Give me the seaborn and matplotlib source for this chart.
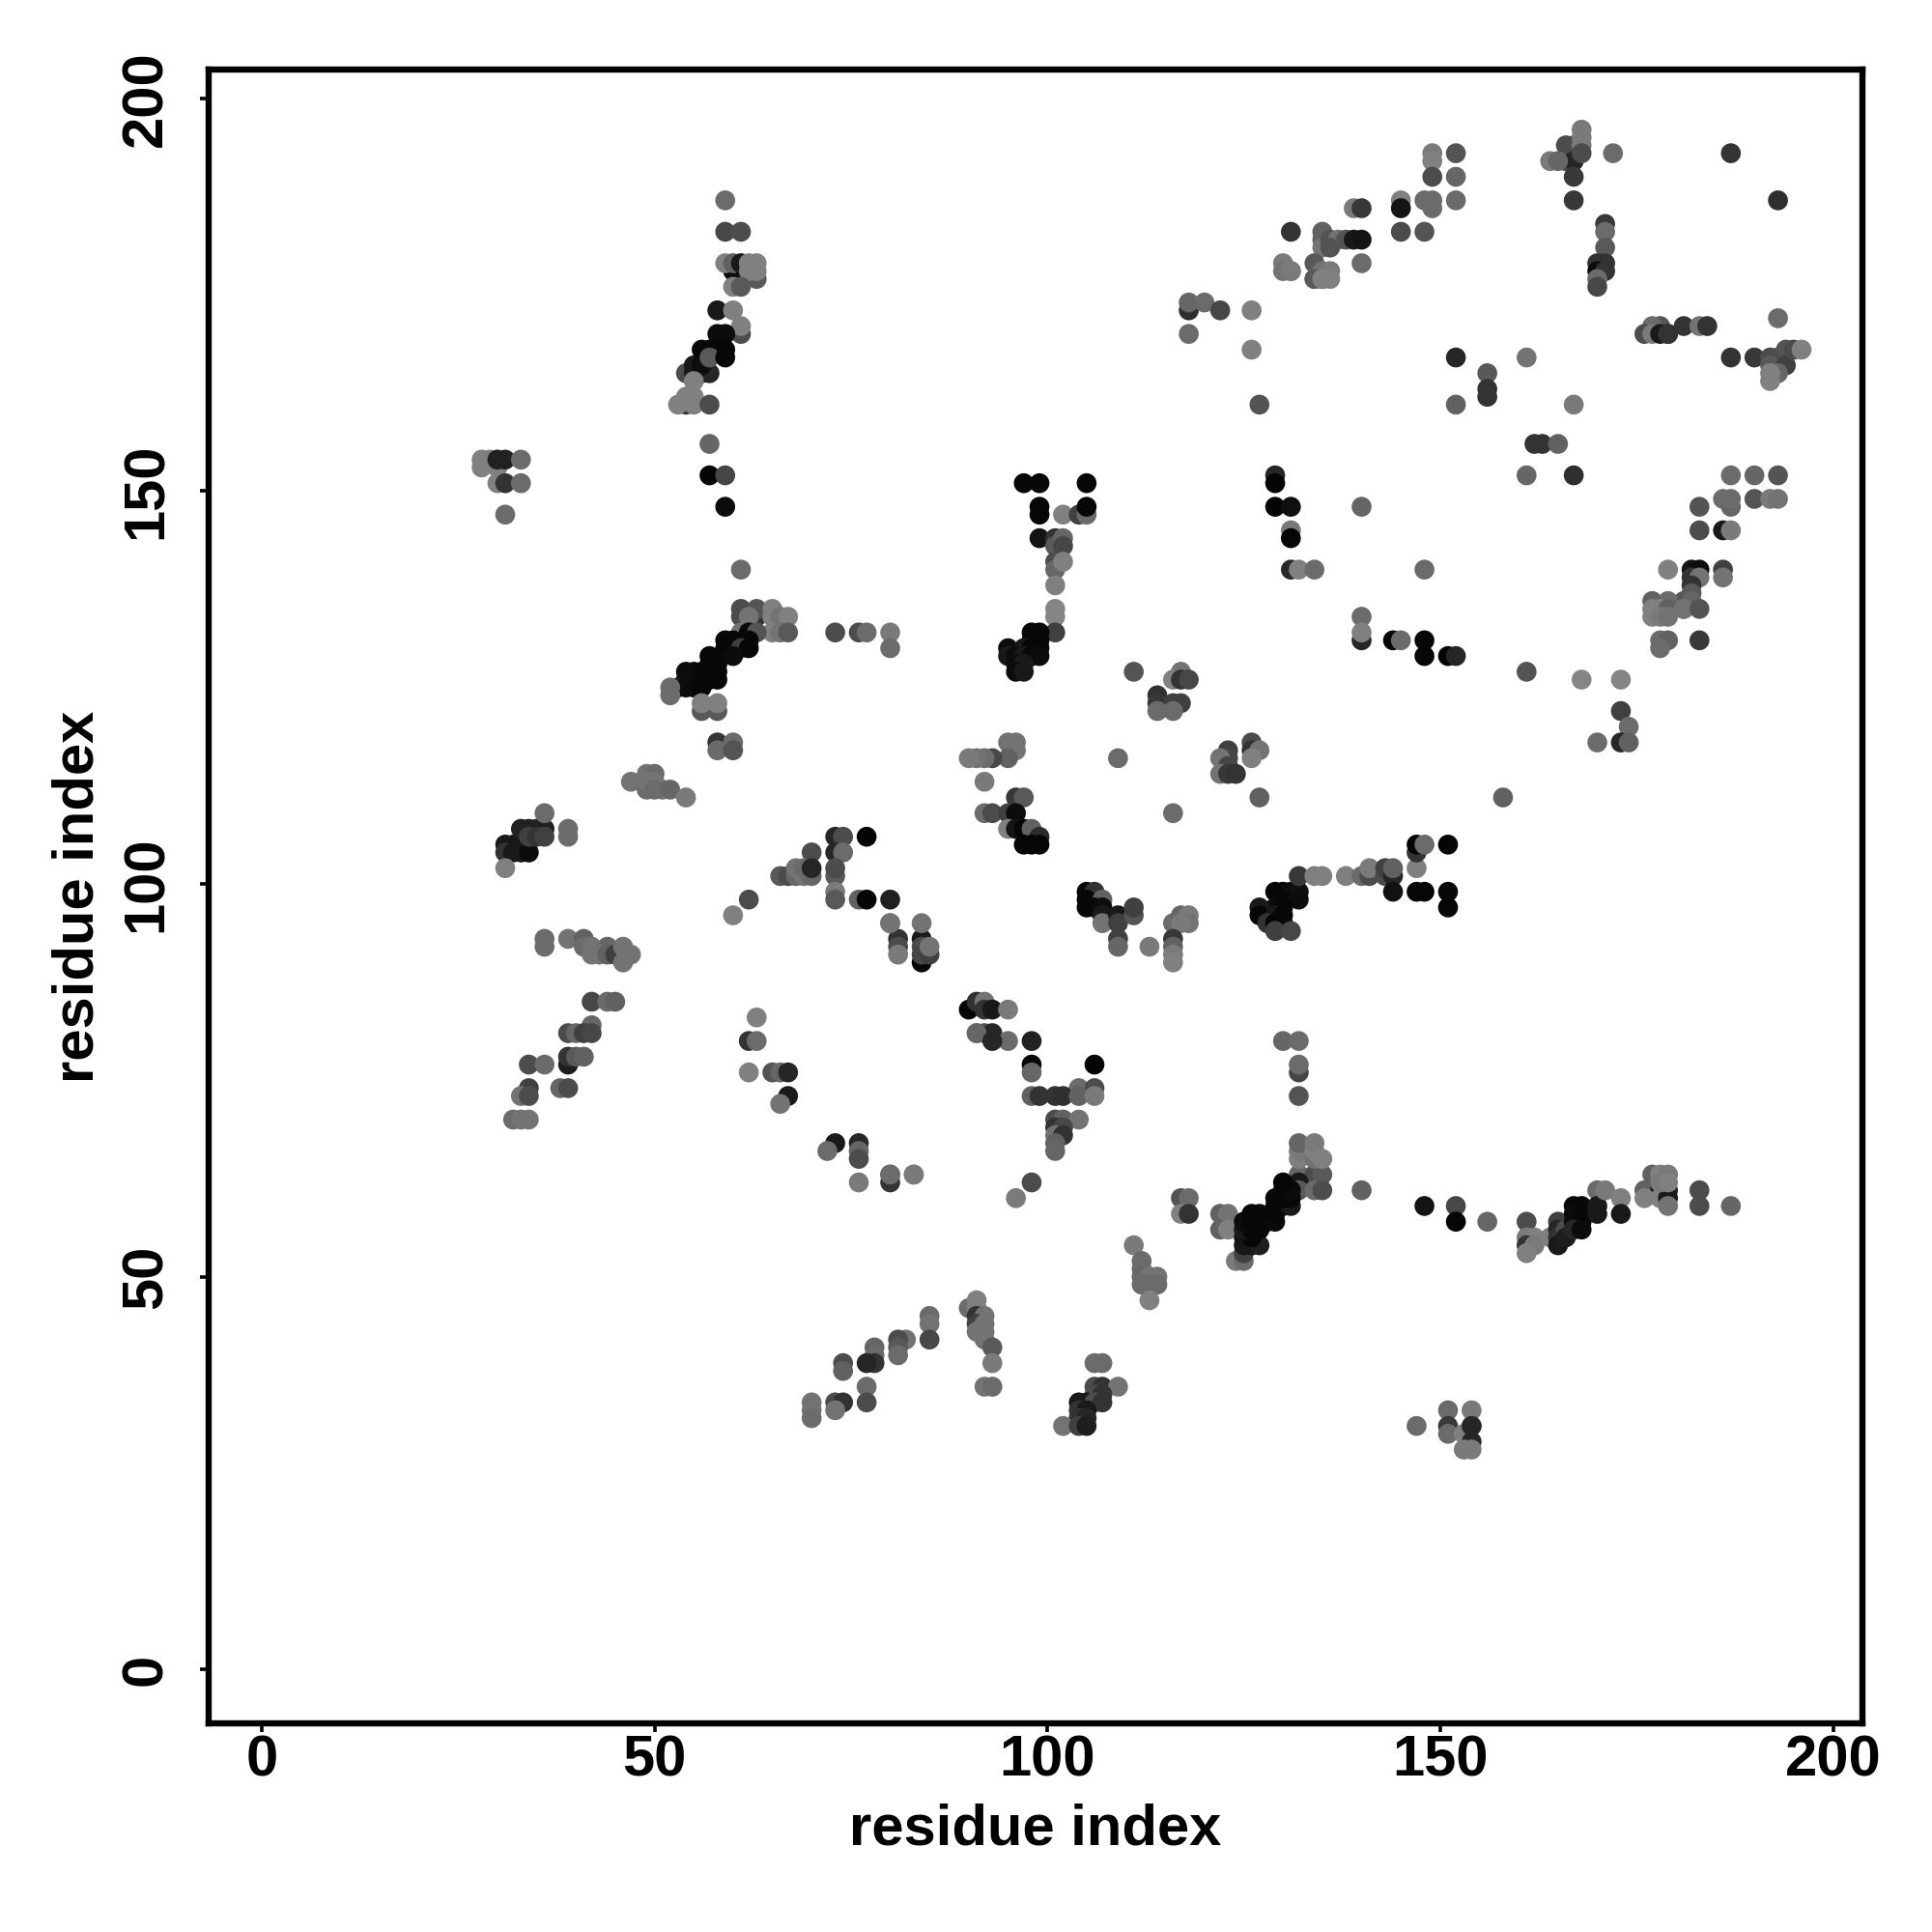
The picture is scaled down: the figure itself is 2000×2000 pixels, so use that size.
import pandas as pd
import seaborn as sns
import matplotlib
matplotlib.use('Agg')
import matplotlib.pyplot as plt

# contacts, one line per cluster, darkest first so the paler dots sit on top
res_i = [
    59,59,61,60,61,63,59,60,61,62,63,62,63,60,61,
    58,60,61,61,58,59,54,55,56,57,55,56,56,57,58,59,57,59,55,54,53,54,55,55,57,57,57,59,59,61,
    28,29,28,30,30,31,33,30,31,33,31,
    61,61,63,63,62,65,65,66,67,65,66,67,61,62,63,73,76,77,80,80,
    59,60,62,59,60,61,62,60,57,57,58,54,55,56,57,58,54,55,56,57,58,53,54,55,56,52,52,56,58,56,58,
    58,60,58,60,
    47,49,50,49,50,51,49,50,52,54,
    31,32,33,31,32,33,34,33,34,35,36,34,35,36,39,39,36,31,
    73,74,77,70,73,74,66,67,68,69,70,73,68,69,70,73,73,73,76,77,80,62,60,
    84,80,81,81,81,84,84,84,85,85,84,80,
    36,36,39,41,41,42,42,44,43,44,45,46,46,47,
    42,44,45,42,39,40,41,42,34,36,39,39,40,41,34,38,39,33,34,32,33,34,
    63,62,63,62,65,66,67,67,66,73,72,76,76,76,76,80,80,83,
    90,91,92,91,92,93,95,91,92,93,93,95,
    98,98,106,98,104,106,98,99,101,102,104,106,101,102,104,101,102,101,102,101,101,
    80,83,98,96,
    130,132,132,132,132,132,134,135,132,132,134,135,132,132,132,134,134,134,135,140,
    117,118,117,118,122,123,122,123,
    111,112,112,112,113,114,112,113,114,113,
    124,125,125,125,126,127,125,126,125,126,127,125,126,127,128,129,126,127,129,129,130,131,129,130,131,130,131,130,
    90,91,91,91,92,91,92,91,92,92,93,93,92,93,
    85,85,85,82,81,81,81,78,78,78,77,77,74,77,74,70,73,74,70,73,70,
    106,107,106,107,109,106,107,104,105,106,107,104,105,104,105,102,104,105,
    151,154,154,151,151,153,154,153,154,154,147,
    148,152,152,156,161,161,162,161,162,161,164,165,165,165,165,166,166,167,168,167,168,167,168,167,168,170,170,170,171,173,173,
    176,178,179,178,179,177,176,178,179,178,179,179,183,183,187,
    149,149,152,152,149,145,145,148,149,149,152,139,140,131,135,135,135,136,137,138,139,140,136,145,148,
    140,130,131,134,135,136,135,130,131,134,135,134,135,136,
    168,166,167,168,168,166,167,168,164,165,167,172,167,187,193,
    171,171,171,170,171,170,171,170,170,
    118,118,120,122,126,118,126,
    178,179,181,183,184,177,176,177,178,179,193,
    187,190,193,194,192,192,194,193,195,196,192,192,
    152,161,156,156,156,127,152,167,162,163,165,161,167,
    129,129,129,131,140,131,131,131,132,134,148,
    183,186,187,187,190,192,193,187,190,193,183,186,187,
    179,182,183,186,182,183,186,182,182,
    181,181,177,179,182,177,178,179,181,183,177,178,179,178,179,178,183,
    140,140,140,144,145,148,148,151,152,161,168,173,173,174,170,173,174,158,
    97,99,105,99,99,102,104,105,105,
    99,101,101,102,102,101,101,102,101,101,101,101,
    98,99,98,99,95,97,98,99,95,96,97,98,99,96,97,96,97,
    111,
    117,116,117,118,114,114,116,117,114,116,
    109,116,127,
    123,123,122,123,122,123,124,126,126,127,126,
    95,96,96,95,93,92,91,90,92,96,97,92,93,95,96,95,96,97,98,99,97,98,99,
    105,106,105,107,105,106,107,107,107,109,109,111,111,109,109,113,
    116,117,118,118,117,116,116,116,116,
    129,130,131,132,130,132,129,130,127,127,129,130,128,129,130,129,131,
    132,134,135,138,140,141,141,143,143,144,144,144,147,148,151,151,147,147,147,148,151,
]
res_j = [
    187,183,183,178,178,177,179,179,179,179,179,178,178,176,176,
    173,173,170,171,170,170,165,165,165,165,166,166,168,168,168,168,167,167,164,161,161,162,162,161,161,156,152,152,148,140,
    154,154,153,153,154,154,154,151,151,151,147,
    135,134,134,135,134,135,134,134,134,132,132,132,132,132,132,132,132,132,132,130,
    131,131,131,130,130,130,130,129,129,128,128,127,127,127,127,127,126,126,126,126,126,125,125,125,125,125,124,122,122,123,123,
    118,118,117,117,
    113,114,114,112,113,112,113,112,112,111,
    105,105,105,104,104,104,104,107,107,107,107,106,106,106,107,106,109,102,
    106,106,106,104,104,104,101,101,101,101,101,101,102,102,102,102,99,98,98,98,98,98,96,
    90,95,93,92,91,93,92,91,91,92,95,95,
    93,92,93,93,92,92,91,92,91,91,91,92,90,91,
    85,85,85,82,81,81,81,81,77,77,77,78,78,78,74,74,74,73,73,70,70,70,
    83,80,80,76,76,76,76,73,72,67,66,67,66,65,62,63,62,63,
    84,85,85,81,81,81,80,81,84,84,80,84,
    77,80,77,76,74,74,73,73,73,73,73,73,70,70,70,69,69,68,68,67,66,
    63,63,62,60,
    80,80,76,77,73,63,63,63,62,61,61,61,65,66,67,65,66,67,65,61,
    60,60,58,58,58,58,56,56,
    54,52,51,50,50,50,49,49,49,47,
    52,52,53,54,54,54,55,55,56,56,56,57,57,57,57,57,58,58,58,59,59,59,60,60,60,61,61,62,
    46,46,47,45,45,44,44,43,43,42,41,39,36,36,
    45,44,42,42,42,41,40,41,40,39,36,34,39,39,38,34,34,34,33,33,32,
    39,39,36,36,36,35,35,34,34,34,34,33,33,32,32,31,31,31,
    33,33,31,31,30,30,29,28,28,31,31,
    59,59,57,57,57,55,55,54,54,53,55,57,56,55,54,56,55,59,59,58,58,57,57,56,56,61,59,58,61,60,58,
    61,61,61,60,60,63,60,63,63,62,62,59,61,59,59,
    193,192,193,190,190,187,186,187,187,186,187,186,186,183,183,182,181,182,182,182,182,182,181,183,183,
    179,179,178,179,178,178,177,178,178,177,177,177,177,177,
    196,194,194,195,194,192,192,193,192,192,190,193,187,193,187,
    184,183,181,179,179,178,178,177,176,
    173,174,174,173,173,170,168,
    171,170,171,171,171,171,170,170,170,170,172,
    167,167,167,168,167,166,166,165,168,168,165,164,
    167,167,165,163,162,161,161,161,156,156,156,152,152,
    152,151,148,148,148,145,144,140,140,140,140,
    148,149,148,149,149,149,149,152,152,152,145,145,145,
    140,140,140,140,139,139,139,138,137,
    136,135,136,136,136,135,135,135,135,135,134,134,134,131,131,130,131,
    131,134,132,131,131,131,129,129,129,127,126,126,122,120,118,118,118,111,
    151,151,151,148,147,147,147,147,148,
    144,144,143,144,143,141,140,141,138,135,134,132,
    132,132,131,131,130,130,130,130,129,129,129,129,129,128,128,127,127,
    127,
    127,126,126,126,124,123,123,123,122,122,
    116,109,111,
    117,116,116,115,114,114,114,118,117,117,116,
    118,118,117,116,116,116,116,116,113,111,111,109,109,109,109,107,107,107,107,106,105,105,105,
    99,99,98,98,97,97,97,96,95,96,95,96,97,93,92,92,
    95,96,96,95,95,93,92,91,90,
    99,99,99,99,98,98,97,97,97,96,96,96,95,95,95,94,94,
    101,101,101,101,101,101,102,101,102,101,102,99,99,99,99,97,102,104,105,105,105,
]
shade = [
    .42,.28,.3,.05,.05,.35,.5,.38,.1,.5,.5,.5,.5,.5,.35,
    .1,.5,.3,.5,.05,.05,.3,.1,.05,.15,.1,.05,.03,.03,.03,.03,.35,.03,.5,.2,.5,.5,.5,.5,.3,.4,.02,.27,.05,.42,
    .5,.5,.5,.5,.13,.13,.42,.5,.2,.42,.42,
    .3,.3,.2,.33,.45,.5,.5,.45,.5,.5,.45,.35,.45,.03,.33,.3,.3,.42,.48,.42,
    .03,.03,.03,.03,.03,.25,.03,.05,.03,.03,.03,.05,.05,.03,.03,.03,.05,.05,.03,.03,.03,.1,.05,.05,.03,.42,.42,.35,.35,.5,.5,
    .2,.42,.42,.33,
    .45,.45,.42,.42,.45,.45,.45,.42,.4,.48,
    .1,.1,.1,.2,.1,.1,.05,.13,.13,.13,.13,.25,.2,.25,.42,.42,.42,.5,
    .15,.3,.02,.3,.15,.42,.35,.3,.4,.45,.4,.35,.45,.42,.15,.3,.48,.35,.38,.02,.13,.3,.5,
    .03,.45,.2,.3,.48,.1,.3,.28,.25,.45,.45,.45,
    .42,.42,.45,.38,.42,.45,.45,.4,.45,.38,.25,.45,.45,.45,
    .28,.42,.38,.4,.3,.4,.25,.28,.3,.42,.12,.2,.35,.38,.25,.4,.3,.45,.3,.42,.45,.45,
    .5,.2,.42,.5,.33,.4,.15,.1,.45,.1,.42,.15,.4,.3,.48,.4,.2,.5,
    .03,.2,.45,.5,.3,.15,.42,.4,.2,.1,.15,.48,
    .03,.13,.02,.4,.42,.3,.38,.2,.2,.18,.38,.48,.3,.38,.45,.2,.28,.45,.2,.38,.4,
    .42,.48,.3,.48,
    .4,.42,.28,.42,.33,.4,.3,.35,.1,.35,.42,.3,.5,.48,.4,.45,.5,.48,.5,.38,
    .33,.42,.5,.2,.38,.45,.38,.5,
    .48,.42,.42,.4,.45,.45,.42,.42,.42,.5,
    .48,.42,.25,.1,.1,.12,.08,.03,.1,.03,.03,.05,.03,.03,.03,.05,.03,.03,.03,.03,.03,.1,.03,.03,.03,.03,.05,.03,
    .42,.5,.5,.2,.45,.25,.45,.45,.45,.45,.35,.48,.45,.42,
    .42,.45,.28,.45,.3,.35,.42,.4,.42,.2,.42,.3,.3,.15,.38,.45,.3,.2,.45,.45,.42,
    .42,.42,.3,.2,.45,.3,.2,.1,.1,.3,.2,.2,.1,.2,.15,.45,.25,.12,
    .42,.48,.42,.22,.42,.5,.15,.48,.48,.15,.42,
    .08,.28,.02,.4,.3,.48,.5,.2,.48,.5,.5,.25,.15,.2,.1,.3,.12,.03,.03,.05,.03,.05,.03,.15,.05,.42,.1,.1,.48,.5,.1,
    .38,.1,.15,.5,.1,.38,.5,.5,.48,.48,.5,.45,.3,.3,.4,
    .48,.5,.33,.4,.3,.5,.08,.42,.42,.42,.42,.48,.22,.2,.38,.38,.45,.33,.45,.33,.1,.08,.33,.3,.33,
    .42,.48,.42,.35,.45,.48,.33,.45,.48,.5,.5,.35,.5,.5,
    .48,.3,.3,.48,.48,.3,.15,.3,.48,.4,.22,.42,.22,.2,.18,
    .22,.42,.35,.2,.2,.05,.2,.42,.28,
    .18,.4,.42,.28,.5,.42,.5,
    .33,.2,.2,.45,.2,.42,.3,.48,.1,.2,.42,
    .2,.22,.33,.33,.3,.35,.25,.4,.3,.5,.5,.5,
    .15,.45,.35,.2,.2,.33,.38,.48,.2,.2,.38,.4,.18,
    .15,.02,.02,.06,.4,.47,.02,.15,.5,.42,.42,
    .33,.42,.4,.42,.33,.48,.45,.42,.4,.33,.3,.1,.48,
    .5,.08,.05,.25,.2,.45,.45,.2,.35,
    .35,.33,.38,.42,.4,.5,.5,.38,.45,.33,.5,.48,.45,.42,.38,.42,.22,
    .15,.42,.5,.03,.42,.03,.03,.02,.15,.33,.52,.52,.25,.42,.42,.15,.38,.38,
    .03,.03,.03,.03,.03,.5,.25,.42,.03,
    .08,.2,.35,.4,.28,.3,.4,.5,.5,.52,.52,.25,
    .03,.03,.03,.03,.05,.1,.03,.03,.1,.05,.1,.03,.05,.05,.1,.05,.1,
    .33,
    .45,.5,.2,.28,.2,.22,.25,.25,.42,.42,
    .42,.42,.38,
    .25,.28,.45,.28,.45,.22,.2,.3,.2,.45,.5,
    .45,.45,.45,.38,.28,.42,.45,.48,.48,.22,.35,.42,.3,.25,.05,.5,.08,.03,.38,.17,.02,.02,.03,
    .03,.2,.03,.38,.03,.03,.05,.1,.45,.1,.25,.33,.25,.25,.4,.48,
    .42,.4,.48,.45,.48,.22,.38,.48,.5,
    .03,.03,.05,.06,.03,.05,.05,.03,.1,.03,.1,.03,.2,.03,.03,.25,.28,
    .22,.5,.5,.5,.42,.3,.48,.3,.25,.15,.38,.07,.03,.03,.03,.03,.5,.2,.02,.42,.02,
]

tick_values = [0, 50, 100, 150, 200]

df = pd.DataFrame({'i': res_i, 'j': res_j, 'shade': shade})

sns.set_theme(style='white')
plt.rcParams['font.family'] = ['Liberation Sans', 'DejaVu Sans']
plt.rcParams['font.weight'] = 'bold'

fig = plt.figure(figsize=(10, 10), dpi=200)
ax = fig.add_axes([216 / 2000, 216 / 2000, 1712 / 2000, 1712 / 2000])

sns.scatterplot(data=df, x='i', y='j', hue='shade', palette='gray', hue_norm=(0, 1),
                s=55, linewidth=0, legend=False, ax=ax)

ax.set_xlim(-6.75, 203.75)
ax.set_ylim(-6.85, 203.65)
ax.set_xticks(tick_values)
ax.set_yticks(tick_values)
ax.tick_params(axis='both', bottom=True, left=True, length=3.2, width=1.3, color='black',
               labelsize=21.5, labelcolor='black')
ax.tick_params(axis='x', pad=1)
ax.tick_params(axis='y', pad=10)
plt.setp(ax.get_yticklabels(), rotation=90, va='center')
ax.set_xlabel('residue index', fontsize=21.5, fontweight='bold', color='black', labelpad=5.8)
ax.set_ylabel('residue index', fontsize=21.5, fontweight='bold', color='black', labelpad=5.6)
for spine in ax.spines.values():
    spine.set_linewidth(2.3)
    spine.set_color('black')

fig.savefig('out.png', dpi=200)
